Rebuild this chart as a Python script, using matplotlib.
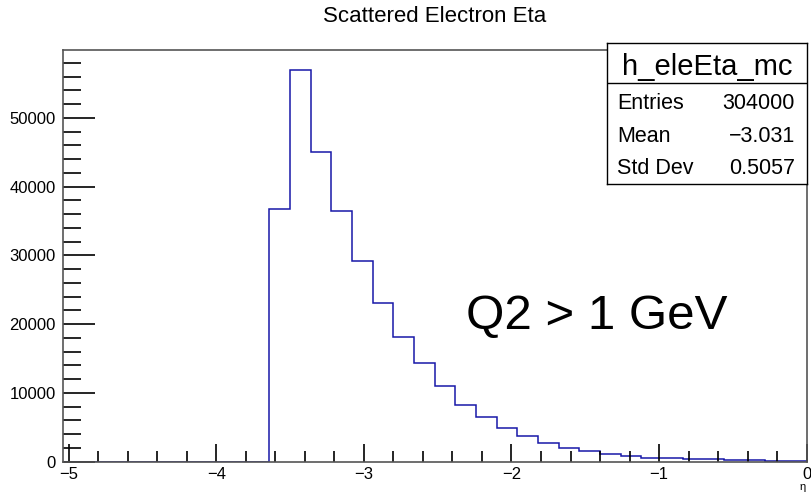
import numpy as np
import matplotlib
matplotlib.use("Agg")
import matplotlib.pyplot as plt
from matplotlib.ticker import MultipleLocator

plt.rcParams['font.family'] = ['Liberation Sans', 'DejaVu Sans']

# histogram definition (36 bins of 0.14 from -5.04 to 0), first 10 bins empty
eta_lo = -5.04
eta_hi = 0.0
n_bins = 36
counts = [0, 0, 0, 0, 0, 0, 0, 0, 0, 0,
          36770, 57010, 44970, 36420, 29130, 23020, 18160, 14330, 10980,
          8210, 6470, 4860, 3790, 2770, 2040, 1560, 1120, 830, 540, 480,
          400, 360, 280, 220, 170, 120]

hist_name = 'h_eleEta_mc'
stat_names = ['Entries', 'Mean', 'Std Dev']
stat_values = ['304000', '\u22123.031', '0.5057']

title = 'Scattered Electron Eta'
note = 'Q2 > 1 GeV'

edges = np.linspace(eta_lo, eta_hi, n_bins + 1)

W, H = 812, 493
fig = plt.figure(figsize=(W / 100, H / 100), dpi=100)
ax = fig.add_axes([62.7 / W, 1 - 461.7 / H, (806.7 - 62.7) / W, (461.7 - 50) / H])

ax.stairs(counts, edges, baseline=0, color='#1818a8', linewidth=1.1, zorder=1)

ax.set_xlim(eta_lo, eta_hi)
ax.set_ylim(0, max(counts) * 1.05)

ax.xaxis.set_major_locator(MultipleLocator(1))
ax.xaxis.set_minor_locator(MultipleLocator(0.2))
ax.yaxis.set_major_locator(MultipleLocator(10000))
ax.yaxis.set_minor_locator(MultipleLocator(2000))
ax.tick_params(axis='x', which='major', direction='in', length=13, width=1.2,
               labelsize=12, pad=4, top=False)
ax.tick_params(axis='x', which='minor', direction='in', length=8, width=1.2, top=False)
ax.tick_params(axis='y', which='major', direction='in', length=23, width=1.2,
               labelsize=12, pad=5, right=False)
ax.tick_params(axis='y', which='minor', direction='in', length=13, width=1.2, right=False)
for s in ax.spines.values():
    s.set_color('#555555')
    s.set_linewidth(1.2)

fig.text(434.7 / W, 1 - 17 / H, title, ha='center', va='center', fontsize=16)
ax.text(466 / W, 1 - 317 / H, note, transform=fig.transFigure, ha='left', va='center',
        fontsize=35.5)
fig.text(806 / W, 1 - 487 / H, '\u03b7', ha='right', va='center', fontsize=8)

# stats box
sb = fig.add_axes([607.3 / W, 1 - 184 / H, (806.7 - 607.3) / W, (184 - 43) / H])
sb.set_xticks([])
sb.set_yticks([])
sb.set_xlim(0, 1)
sb.set_ylim(0, 1)
for s in sb.spines.values():
    s.set_color('black')
    s.set_linewidth(1.0)
sep = 1 - (83.3 - 43) / (184 - 43)
sb.axhline(sep, color='black', linewidth=1.0)
sb.text(0.5, 1 - (66.7 - 43) / (184 - 43), hist_name, ha='center', va='center', fontsize=21)
row_y = [103.3, 136.7, 168.3]
for name, val, y in zip(stat_names, stat_values, row_y):
    yy = 1 - (y - 43) / (184 - 43)
    sb.text(10 / 199.4, yy, name, ha='left', va='center', fontsize=15.5)
    sb.text(1 - 11.7 / 199.4, yy, val, ha='right', va='center', fontsize=15.5)

fig.savefig('out.png', dpi=100)
